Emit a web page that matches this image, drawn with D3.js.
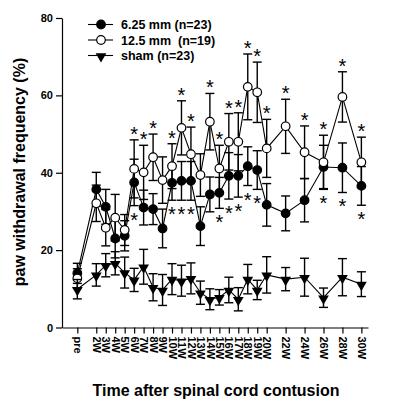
<!DOCTYPE html>
<html><head><meta charset="utf-8">
<script src="https://cdn.jsdelivr.net/npm/d3@7"></script>
<style>body{margin:0;background:#fff}svg{display:block}text{font-family:"Liberation Sans",Arial,sans-serif}</style>
</head><body><svg id="c" width="407" height="407"></svg>
<script>
const weeks = [0,2,3,4,5,6,7,8,9,10,11,12,13,14,15,16,17,18,19,20,22,24,26,28,30];
const tickLabels = ["pre","2W","3W","4W","5W","6W","7W","8W","9W","10W","11W","12W","13W","14W","15W","16W","17W","18W","19W","20W","22W","24W","26W","28W","30W"];
const mildMean = [14.0,35.7,31.2,23.0,23.7,37.5,31.0,30.6,25.6,37.4,37.9,37.9,26.2,34.4,34.8,39.2,39.2,41.7,40.7,31.7,29.5,32.9,41.5,41.3,36.6];
const mildErr  = [2.6,4.4,4.5,5.0,3.9,6.0,4.5,4.0,5.0,4.5,5.0,5.0,5.0,4.5,4.0,6.0,5.5,5.0,5.0,5.5,4.5,5.6,5.6,6.4,5.0];
const modMean  = [12.7,32.1,25.8,28.4,25.2,41.0,40.1,44.0,38.1,41.7,51.6,44.8,39.4,53.2,41.1,48.0,48.0,62.2,60.8,46.3,52.0,45.3,42.7,59.6,42.7];
const modErr   = [2.5,4.7,4.7,6.0,4.0,7.5,7.0,6.0,6.0,5.8,7.0,7.0,5.5,7.3,6.0,7.3,7.5,8.5,7.8,7.5,7.0,6.8,7.0,6.5,6.5];
const shamMean = [9.9,13.6,16.1,16.6,14.2,12.3,15.7,10.4,9.7,12.5,12.1,12.7,9.0,7.3,7.8,9.7,7.3,12.5,9.7,13.6,12.5,13.0,7.7,13.0,11.2];
const shamErr  = [2.5,2.9,3.0,3.0,4.0,3.0,4.5,3.5,4.0,4.0,4.0,4.0,3.0,2.7,2.0,3.3,3.0,3.8,2.5,4.7,3.0,4.9,2.5,4.8,3.2];
const modSigWeeks  = [6,7,8,10,11,12,14,15,16,17,18,19,20,22,24,26,28,30];
const mildSigWeeks = [6,10,11,12,15,16,17,18,19,26,28,30];
const yTicks = [0,20,40,60,80];
const legendLabels = ["6.25 mm (n=23)","12.5 mm  (n=19)","sham (n=23)"];

const svg = d3.select("#c");
const x = d3.scaleLinear().domain([-1.62,30.7]).range([62,368]);
const y = d3.scaleLinear().domain([0,80]).range([327.5,18]);

// axes
const yAx = svg.append("g").attr("transform","translate(62,0)")
  .call(d3.axisLeft(y).tickValues(yTicks).tickSize(6).tickSizeOuter(0).tickPadding(3));
const xAx = svg.append("g").attr("transform","translate(0,327.5)")
  .call(d3.axisBottom(x).tickValues(weeks).tickFormat((d,i)=>tickLabels[i]).tickSize(6).tickSizeOuter(0));
[yAx,xAx].forEach(g=>{g.select(".domain").attr("stroke","#000").attr("stroke-width",1.2);
  g.selectAll(".tick line").attr("stroke","#000").attr("stroke-width",1.2);
  g.selectAll("text").attr("font-size",11).attr("font-weight","bold").attr("fill","#000")
   .attr("font-family","'Liberation Sans',Arial,sans-serif");});
xAx.selectAll(".tick text").attr("transform","rotate(90)").attr("x",9).attr("y",0)
  .attr("dy","0.35em").attr("text-anchor","start");

// titles
svg.append("text").attr("transform","translate(25,172) rotate(-90)").attr("text-anchor","middle")
  .attr("font-size",16).attr("font-weight","bold").text("paw withdrawal frequency (%)");
svg.append("text").attr("x",216).attr("y",396).attr("text-anchor","middle")
  .attr("font-size",16).attr("font-weight","bold").text("Time after spinal cord contusion");

const line = d3.line().x((d,i)=>x(weeks[i])).y(d=>y(d));
const tri = d3.symbol().type(d3.symbolTriangle).size(50);

function series(mean, err, kind){
  const g = svg.append("g");
  g.append("path").datum(mean).attr("d",line).attr("fill","none").attr("stroke","#000").attr("stroke-width",1.1);
  const eb = g.selectAll(".eb").data(mean).enter().append("g");
  eb.append("line").attr("x1",(d,i)=>x(weeks[i])).attr("x2",(d,i)=>x(weeks[i]))
    .attr("y1",(d,i)=>y(d+err[i])).attr("y2",(d,i)=>y(d-err[i])).attr("stroke","#000").attr("stroke-width",1.4);
  [1,-1].forEach(s=>eb.append("line").attr("x1",(d,i)=>x(weeks[i])-4.5).attr("x2",(d,i)=>x(weeks[i])+4.5)
    .attr("y1",(d,i)=>y(d+s*err[i])).attr("y2",(d,i)=>y(d+s*err[i])).attr("stroke","#000").attr("stroke-width",1.4));
  mean.forEach((d,i)=>marker(g, x(weeks[i]), y(d), kind));
}
function marker(g, cx, cy, kind){
  if(kind==="tri"){
    g.append("path").attr("d",tri).attr("transform",`translate(${cx},${cy+0.8}) rotate(180)`).attr("fill","#000");
  } else {
    g.append("circle").attr("cx",cx).attr("cy",cy).attr("r",4.3)
      .attr("fill",kind==="open"?"#fff":"#000").attr("stroke","#000").attr("stroke-width",1.2);
  }
}
series(mildMean, mildErr, "filled");
series(modMean, modErr, "open");
series(shamMean, shamErr, "tri");

// significance asterisks
function star(cx, cy){
  svg.append("text").attr("x",cx).attr("y",cy+11).attr("text-anchor","middle")
    .attr("font-size",20).attr("fill","#000").text("*");
}
modSigWeeks.forEach(w=>{const i=weeks.indexOf(w); star(x(w), y(modMean[i]+modErr[i])-10);});
mildSigWeeks.forEach(w=>{const i=weeks.indexOf(w); star(x(w), y(mildMean[i]-mildErr[i])+10);});

// legend
const kinds = ["filled","open","tri"];
const rows = [24.5,40,55.5];
legendLabels.forEach((t,k)=>{
  svg.append("line").attr("x1",88).attr("x2",113).attr("y1",rows[k]).attr("y2",rows[k]).attr("stroke","#000").attr("stroke-width",1.1);
  marker(svg, 101, rows[k], kinds[k]);
  svg.append("text").attr("x",121).attr("y",rows[k]+4.5).attr("font-size",12.5).attr("font-weight","bold").attr("xml:space","preserve").style("white-space","pre").text(t);
});
</script></body></html>
